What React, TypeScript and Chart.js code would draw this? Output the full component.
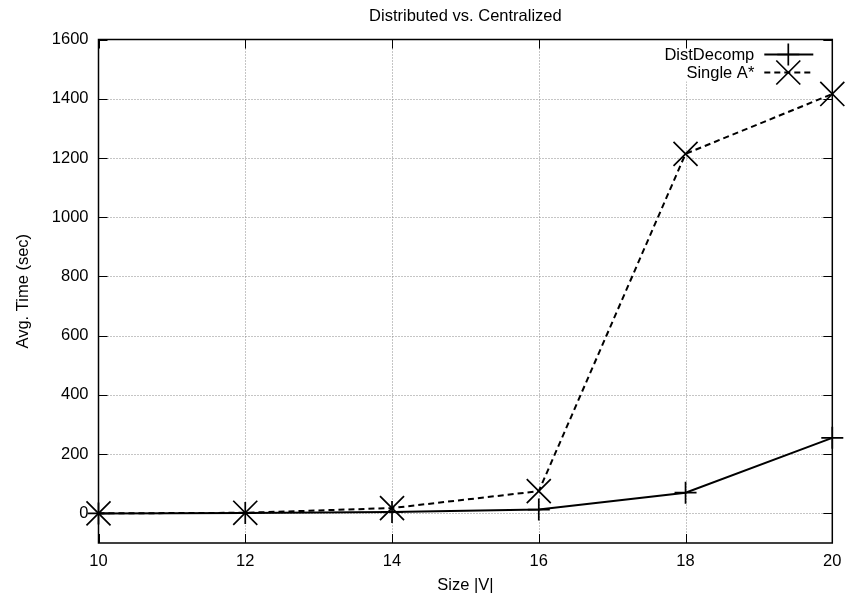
import React, { useEffect, useRef } from 'react';
import { Chart, registerables } from 'chart.js';

Chart.register(...registerables);

const sizes = [10, 12, 14, 16, 18, 20];
const distDecomp = [0, 1, 5, 13, 70, 255];
const singleAStar = [0, 2, 18, 75, 1214, 1416];
const xTicks = [10, 12, 14, 16, 18, 20];
const yTicks = [0, 200, 400, 600, 800, 1000, 1200, 1400, 1600];
const seriesNames = ['DistDecomp', 'Single A*'];
const titleText = 'Distributed vs. Centralized';
const xTitle = 'Size |V|';
const yTitle = 'Avg. Time (sec)';

const FONT = '"Liberation Sans", Arial, Helvetica, sans-serif';
const FSIZE = 16.5;

const framePlugin = {
  id: 'gnuframe',
  beforeDatasetsDraw(chart: any) {
    const { ctx, chartArea: a, scales } = chart;
    const x = scales.x;
    const y = scales.y;
    ctx.save();
    // dotted grid
    ctx.strokeStyle = '#8a8a8a';
    ctx.lineWidth = 1;
    ctx.setLineDash([1, 2]);
    xTicks.forEach((v) => {
      if (v === xTicks[0] || v === xTicks[xTicks.length - 1]) return;
      const px = Math.round(x.getPixelForValue(v)) + 0.5;
      ctx.beginPath();
      ctx.moveTo(px, a.top);
      ctx.lineTo(px, a.bottom);
      ctx.stroke();
    });
    yTicks.forEach((v) => {
      if (v === 1600) return;
      const py = Math.round(y.getPixelForValue(v)) + 0.5;
      ctx.beginPath();
      ctx.moveTo(a.left, py);
      ctx.lineTo(a.right, py);
      ctx.stroke();
    });
    ctx.setLineDash([]);
    // legend background
    ctx.fillStyle = '#ffffff';
    ctx.fillRect(a.right - 175, a.top + 6, 168, 36);
    // inward ticks on all sides
    ctx.strokeStyle = '#000';
    ctx.lineWidth = 1;
    const tl = 9;
    xTicks.forEach((v) => {
      const px = Math.round(x.getPixelForValue(v)) + 0.5;
      ctx.beginPath();
      ctx.moveTo(px, a.bottom);
      ctx.lineTo(px, a.bottom - tl);
      ctx.moveTo(px, a.top);
      ctx.lineTo(px, a.top + tl);
      ctx.stroke();
    });
    yTicks.forEach((v) => {
      const py = Math.round(y.getPixelForValue(v)) + 0.5;
      ctx.beginPath();
      ctx.moveTo(a.left, py);
      ctx.lineTo(a.left + tl, py);
      ctx.moveTo(a.right, py);
      ctx.lineTo(a.right - tl, py);
      ctx.stroke();
    });
    // border
    ctx.lineWidth = 1.5;
    ctx.strokeRect(a.left, a.top, a.right - a.left, a.bottom - a.top);
    ctx.restore();
  },
  afterDraw(chart: any) {
    const { ctx, chartArea: a } = chart;
    ctx.save();
    ctx.fillStyle = '#000';
    ctx.font = `${FSIZE}px ${FONT}`;
    // title
    ctx.textAlign = 'center';
    ctx.textBaseline = 'alphabetic';
    ctx.fillText(titleText, (a.left + a.right) / 2, 20.5);
    // x title
    ctx.fillText(xTitle, (a.left + a.right) / 2, 590);
    // y title
    ctx.save();
    ctx.translate(28, (a.top + a.bottom) / 2);
    ctx.rotate(-Math.PI / 2);
    ctx.fillText(yTitle, 0, 0);
    ctx.restore();
    // legend
    const textX = a.right - 78;
    const x1 = a.right - 68;
    const x2 = a.right - 19;
    const mx = a.right - 44;
    const rows = [a.top + 15, a.top + 33];
    ctx.textAlign = 'right';
    ctx.textBaseline = 'middle';
    seriesNames.forEach((name, i) => {
      ctx.fillText(name, textX, rows[i] + 1);
    });
    ctx.strokeStyle = '#000';
    // row 1 : solid + plus
    ctx.lineWidth = 2;
    ctx.beginPath();
    ctx.moveTo(x1, rows[0]);
    ctx.lineTo(x2, rows[0]);
    ctx.stroke();
    ctx.lineWidth = 1.7;
    ctx.beginPath();
    ctx.moveTo(mx, rows[0] - 11);
    ctx.lineTo(mx, rows[0] + 11);
    ctx.moveTo(mx - 11, rows[0]);
    ctx.lineTo(mx + 11, rows[0]);
    ctx.stroke();
    // row 2 : dashed + x
    ctx.lineWidth = 2;
    ctx.setLineDash([6, 4]);
    ctx.beginPath();
    ctx.moveTo(x1, rows[1]);
    ctx.lineTo(x2, rows[1]);
    ctx.stroke();
    ctx.setLineDash([]);
    ctx.lineWidth = 1.7;
    const r = 12;
    ctx.beginPath();
    ctx.moveTo(mx - r, rows[1] - r);
    ctx.lineTo(mx + r, rows[1] + r);
    ctx.moveTo(mx - r, rows[1] + r);
    ctx.lineTo(mx + r, rows[1] - r);
    ctx.stroke();
    ctx.restore();
  },
};

export default function App() {
  const canvasRef = useRef<HTMLCanvasElement | null>(null);

  useEffect(() => {
    const canvas = canvasRef.current;
    if (!canvas) return;
    const chart = new Chart(canvas, {
      type: 'line',
      data: {
        datasets: [
          {
            label: seriesNames[0],
            data: sizes.map((s, i) => ({ x: s, y: distDecomp[i] })),
            borderColor: '#000',
            backgroundColor: '#000',
            borderWidth: 2,
            pointStyle: 'cross',
            pointRadius: 11,
            pointBorderWidth: 1.7,
            pointBorderColor: '#000',
            fill: false,
            tension: 0,
            clip: false as any,
          },
          {
            label: seriesNames[1],
            data: sizes.map((s, i) => ({ x: s, y: singleAStar[i] })),
            borderColor: '#000',
            backgroundColor: '#000',
            borderWidth: 2,
            borderDash: [6, 4],
            pointStyle: 'crossRot',
            pointRadius: 17,
            pointBorderWidth: 1.7,
            pointBorderColor: '#000',
            fill: false,
            tension: 0,
            clip: false as any,
          },
        ],
      },
      options: {
        responsive: false,
        animation: false,
        devicePixelRatio: 1,
        layout: { padding: { top: 39.5, right: 13, bottom: 0, left: 0 } },
        plugins: {
          legend: { display: false },
          title: { display: false },
          tooltip: { enabled: false },
        },
        scales: {
          x: {
            type: 'linear',
            min: 10,
            max: 20,
            afterBuildTicks: (scale: any) => {
              scale.ticks = xTicks.map((v) => ({ value: v }));
            },
            afterFit: (scale: any) => {
              scale.height = 56;
            },
            grid: { display: false, drawTicks: false },
            border: { display: false },
            ticks: {
              color: '#000',
              padding: 9,
              maxRotation: 0,
              autoSkip: false,
              callback: (v: any) => String(v),
              font: { family: FONT, size: FSIZE },
            },
          },
          y: {
            type: 'linear',
            min: -100,
            max: 1600,
            afterBuildTicks: (scale: any) => {
              scale.ticks = yTicks.map((v) => ({ value: v }));
            },
            afterFit: (scale: any) => {
              scale.width = 98.5;
            },
            grid: { display: false, drawTicks: false },
            border: { display: false },
            ticks: {
              color: '#000',
              padding: 10,
              autoSkip: false,
              callback: (v: any) => String(v),
              font: { family: FONT, size: FSIZE },
            },
          },
        },
      },
      plugins: [framePlugin],
    });
    return () => chart.destroy();
  }, []);

  return (
    <div style={{ position: 'absolute', left: 0, top: 0, width: 851, height: 599, background: '#fff' }}>
      <canvas ref={canvasRef} width={851} height={599} style={{ display: 'block' }} />
    </div>
  );
}
